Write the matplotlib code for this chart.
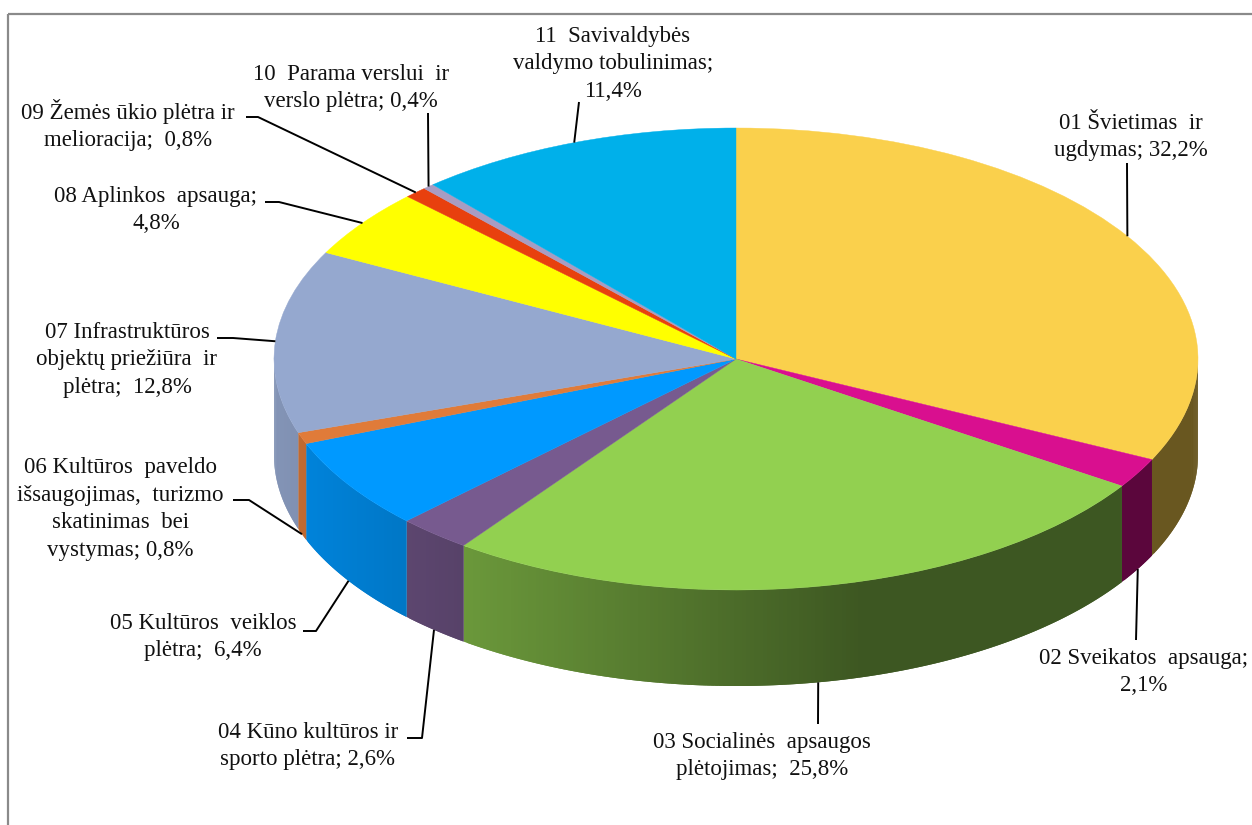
import numpy as np
import matplotlib
matplotlib.use("Agg")
import matplotlib.pyplot as plt
from matplotlib.patches import Polygon, Rectangle
from matplotlib.transforms import Affine2D
from matplotlib.colors import to_rgb

# ---------------- data ----------------
codes = ["01", "02", "03", "04", "05", "06", "07", "08", "09", "10", "11"]
shares = [32.2, 2.1, 25.8, 2.6, 6.4, 0.8, 12.8, 4.8, 0.8, 0.4, 11.4]
label_texts = [
    "01 Švietimas  ir\nugdymas; 32,2%",
    "02 Sveikatos  apsauga;\n2,1%",
    "03 Socialinės  apsaugos\nplėtojimas;  25,8%",
    "04 Kūno kultūros ir\nsporto plėtra; 2,6%",
    "05 Kultūros  veiklos\nplėtra;  6,4%",
    "06 Kultūros  paveldo\nišsaugojimas,  turizmo\nskatinimas  bei\nvystymas; 0,8%",
    "07 Infrastruktūros\nobjektų priežiūra  ir\nplėtra;  12,8%",
    "08 Aplinkos  apsauga;\n4,8%",
    "09 Žemės ūkio plėtra ir\nmelioracija;  0,8%",
    "10  Parama verslui  ir\nverslo plėtra; 0,4%",
    "11  Savivaldybės\nvaldymo tobulinimas;\n11,4%",
]
colors = ["#FAD04C", "#D90F8F", "#92D050", "#775A8F", "#0099FF", "#E07B39",
          "#95A8CF", "#FFFF00", "#E8400E", "#A89CC2", "#00B0EA"]

# ---------------- layout ----------------
W, H = 1252, 825
CX, CY, RX, RY, DEPTH = 736, 359, 462, 231, 96
label_pos = [(1131, 137), (1144, 672), (762, 756), (308, 746), (203, 637),
             (120, 509), (127, 360), (156, 210), (128, 125), (351, 88), (613, 64)]
leader_tail = [
    [(1127, 163)],
    [(1136, 640)],
    [(818, 724)],
    [(422, 738), (407, 738)],
    [(316, 631), (303, 631)],
    [(249, 500), (233, 500)],
    [(233, 338), (217, 338)],
    [(279, 202), (265, 202)],
    [(258, 117), (246, 117)],
    [(428, 113)],
    [(579, 102)],
]
FONT = "Liberation Serif"
FS = 16.5

fig = plt.figure(figsize=(W / 100, H / 100), dpi=100)
ax = fig.add_axes([0, 0, 1, 1])

# top surface via pie, squashed into an ellipse
wedges, _ = ax.pie(shares, colors=colors, startangle=90, counterclock=False,
                   frame=True, wedgeprops=dict(linewidth=0.3))
top_tr = Affine2D().scale(RX, -RY).translate(CX, CY) + ax.transData
for w, c in zip(wedges, colors):
    w.set_transform(top_tr)
    w.set_edgecolor(c)
    w.set_zorder(3)

ax.set_aspect("auto")
ax.set_xlim(0, W)
ax.set_ylim(H, 0)
ax.axis("off")

fr = np.array(shares) / np.sum(shares)
cum = np.concatenate([[0], np.cumsum(fr)])
bounds = 90 - 360 * cum


def ex(t):
    return CX + RX * np.cos(np.radians(t))


def ey(t):
    return CY - RY * np.sin(np.radians(t))


def shade(x):
    return 0.88 - 0.46 * np.clip((x - 274) / (860 - 274), 0, 1)


# side walls (front half only), gradient by overlapping strips
STEP = 0.5
for i, c in enumerate(colors):
    a0, a1 = bounds[i + 1], bounds[i]  # a0 < a1
    lo, hi = max(a0, -180), min(a1, 0)
    if hi <= lo:
        continue
    base = np.array(to_rgb(c))
    t0 = lo
    while t0 < hi - 1e-9:
        t1 = min(t0 + STEP * 2, hi)
        tt = np.linspace(t0, t1, 4)
        xs = np.concatenate([ex(tt), ex(tt[::-1])])
        ys = np.concatenate([ey(tt), ey(tt[::-1]) + DEPTH])
        col = base * shade(ex((t0 + min(t0 + STEP, hi)) / 2))
        ax.add_patch(Polygon(np.column_stack([xs, ys]), closed=True,
                             facecolor=col, edgecolor="none", linewidth=0,
                             zorder=2))
        t0 += STEP

# leader lines and labels
for i in range(len(shares)):
    m = (bounds[i] + bounds[i + 1]) / 2
    axp, ayp = ex(m), ey(m)
    if np.sin(np.radians(m)) < 0:
        ayp += DEPTH
    pts = [(axp, ayp)] + leader_tail[i]
    px, py = zip(*pts)
    ax.plot(px, py, color="black", lw=1.4, zorder=4, solid_capstyle="butt")
    lx, ly = label_pos[i]
    ax.text(lx, ly, label_texts[i], ha="center", va="center",
            multialignment="center", fontsize=FS, family=FONT,
            color="#111111", linespacing=1.4, zorder=5)

# outer frame
ax.add_patch(Rectangle((8, 14), 1300, 900, fill=False, edgecolor="#8a8a8a",
                       linewidth=1.6, zorder=6))

fig.savefig("out.png", dpi=100)
